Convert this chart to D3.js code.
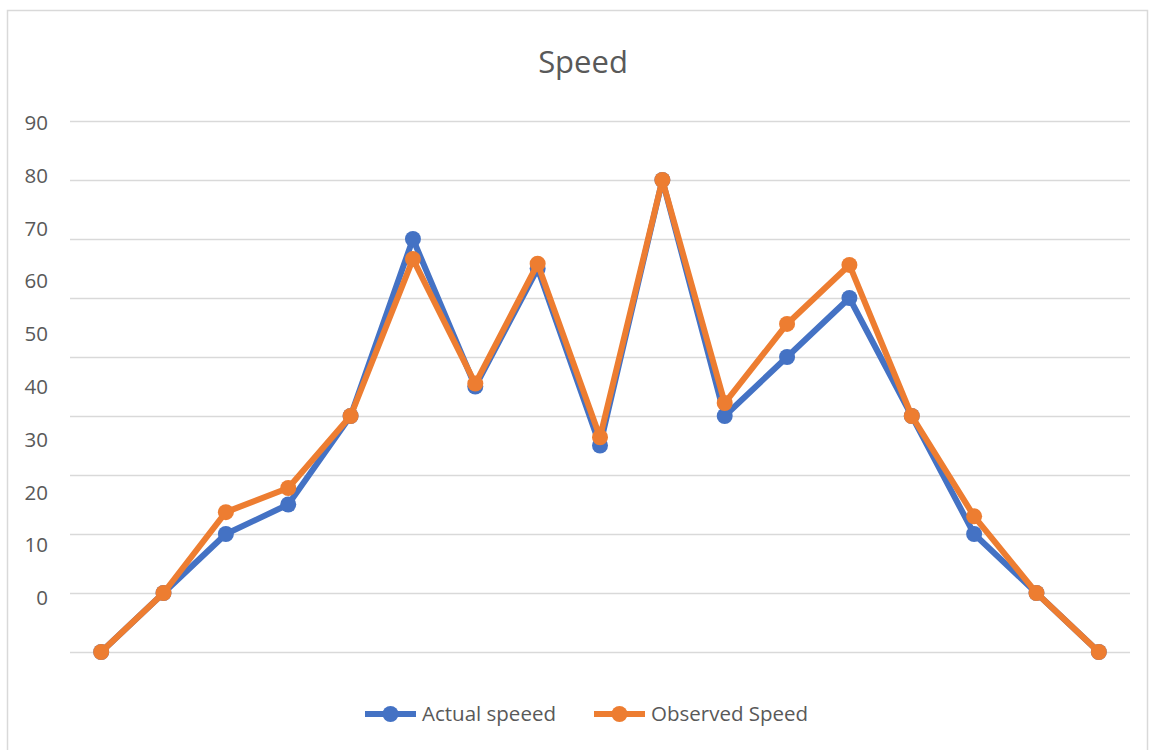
<!DOCTYPE html>
<html>
<head>
<meta charset="utf-8">
<script src="https://cdn.jsdelivr.net/npm/d3@7"></script>
<style>
    body { margin: 0; background: #fff; }
    svg text { font-family: "Open Sans", "Noto Sans", sans-serif; fill: #595959; }
</style>
</head>
<body>
<svg id="drawing_region"></svg>
<script>
// values
const categories = [1, 2, 3, 4, 5, 6, 7, 8, 9, 10, 11, 12, 13, 14, 15, 16, 17];
const actualSpeed = [0, 10, 20, 25, 40, 70, 45, 65, 35, 80, 40, 50, 60, 40, 20, 10, 0];
const observedSpeed = [0, 10, 23.7, 27.8, 40, 66.6, 45.5, 65.8, 36.4, 80, 42.2, 55.6, 65.6, 40, 23, 10, 0];
const tickLabels = [0, 10, 20, 30, 40, 50, 60, 70, 80, 90];
const seriesNames = ["Actual speeed", "Observed Speed"];
const seriesColors = ["#4472C4", "#ED7D31"];

class SpeedChart {

    constructor( config ) {
        this.config = {
            parent: config.parent,
            width : config.width || 256,
            height: config.height || 256,
            margin: config.margin || {top:10, right:10, bottom:10, left:10}
        }
        this.series = [
            { name: seriesNames[0], color: seriesColors[0], values: actualSpeed },
            { name: seriesNames[1], color: seriesColors[1], values: observedSpeed }
        ];
        this.init();
    }

    init() {
        let self = this;

        self.svg = d3.select( self.config.parent )
            .attr('width', self.config.width)
            .attr('height', self.config.height);

        // chart area border
        self.svg.append('rect')
            .attr('x', 7.5)
            .attr('y', 10.5)
            .attr('width', 1140)
            .attr('height', 780)
            .attr('fill', 'none')
            .attr('stroke', '#d9d9d9')
            .attr('stroke-width', 1.5);

        self.chart = self.svg.append('g')
            .attr('transform', `translate(${self.config.margin.left}, ${self.config.margin.top})`);

        self.inner_width = self.config.width - self.config.margin.left - self.config.margin.right;
        self.inner_height = self.config.height - self.config.margin.top - self.config.margin.bottom;

        self.xscale = d3.scalePoint()
            .domain( categories )
            .range([0, self.inner_width])
            .padding(0.5);

        self.yscale = d3.scaleLinear()
            .domain([0, 90])
            .range([self.inner_height, 0]);

        // the tick labels in the picture sit on their own, tighter spacing
        self.labelscale = d3.scaleLinear()
            .domain([0, 90])
            .range([self.inner_height - 54, 2]);

        self.grid = d3.axisLeft( self.yscale )
            .tickValues( tickLabels )
            .tickSize( -self.inner_width )
            .tickFormat('');

        self.yaxis = d3.axisLeft( self.labelscale )
            .tickValues( tickLabels )
            .tickSize(0)
            .tickPadding(22);

        self.title = self.svg.append('text')
            .attr('text-anchor', 'middle')
            .attr('font-size', '31px')
            .attr('x', 583)
            .attr('y', 73)
            .text('Speed');
    }

    render() {
        let self = this;

        self.chart.append('g')
            .call( self.grid )
            .call( g => g.select('.domain').remove() )
            .selectAll('line')
            .attr('stroke', '#d9d9d9')
            .attr('stroke-width', 1.5);

        self.chart.append('g')
            .call( self.yaxis )
            .call( g => g.select('.domain').remove() )
            .selectAll('text')
            .attr('font-size', '20.5px')
            .attr('fill', '#595959');

        self.line = d3.line()
            .x( (d, i) => self.xscale(categories[i]) )
            .y( d => self.yscale(d) );

        self.series.forEach( s => {
            const g = self.chart.append('g');
            g.append('path')
                .attr('d', self.line(s.values))
                .attr('stroke', s.color)
                .attr('stroke-width', 6)
                .attr('stroke-linejoin', 'round')
                .attr('fill', 'none');
            g.selectAll('circle')
                .data(s.values)
                .enter()
                .append('circle')
                .attr('cx', (d, i) => self.xscale(categories[i]))
                .attr('cy', d => self.yscale(d))
                .attr('r', 8)
                .attr('fill', s.color);
        });

        // legend
        const legend = self.svg.append('g')
            .attr('transform', 'translate(365, 714)');
        const offsets = [0, 229];
        self.series.forEach( (s, i) => {
            const item = legend.append('g')
                .attr('transform', `translate(${offsets[i]}, 0)`);
            item.append('line')
                .attr('x1', 0).attr('x2', 51)
                .attr('stroke', s.color)
                .attr('stroke-width', 6);
            item.append('circle')
                .attr('cx', 25.5)
                .attr('r', 8)
                .attr('fill', s.color);
            item.append('text')
                .attr('x', 57)
                .attr('dy', '0.35em')
                .attr('font-size', '20.5px')
                .text(s.name);
        });
    }
}

const config = {
    parent: '#drawing_region',
    width: 1153,
    height: 750,
    margin: {top:121, right:23, bottom:98, left:70}
};

const speed_chart = new SpeedChart( config );
speed_chart.render();
</script>
</body>
</html>
